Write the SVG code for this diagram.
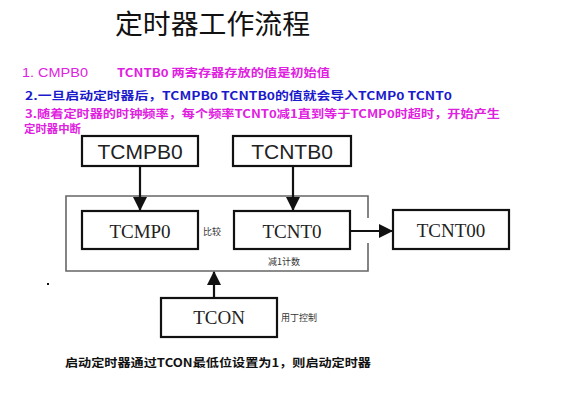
<svg xmlns="http://www.w3.org/2000/svg" width="573" height="407" viewBox="0 0 573 407">
<style>
.cjk{font-family:"Noto Sans CJK SC","Noto Sans",sans-serif}
.mag{fill:#e020e0;font-weight:bold;font-size:11px}
.blue{fill:#1a1acc;font-weight:bold;font-size:11px}
.box{fill:#fff;stroke:#111;stroke-width:2.2}
.sans{font-family:"Liberation Sans",Arial,sans-serif;font-size:21px;fill:#222;text-anchor:middle}
.serif{font-family:"Liberation Serif","Times New Roman",serif;font-size:19px;fill:#222;text-anchor:middle}
.small{font-family:"Noto Sans CJK SC",sans-serif;font-size:9px;fill:#333}
.line{stroke:#111;stroke-width:2.2;fill:none}
.outer{stroke:#666;stroke-width:1.6;fill:none}
</style>
<defs>
<marker id="ah2" markerWidth="14" markerHeight="14" refX="13" refY="7" orient="auto" markerUnits="userSpaceOnUse" viewBox="0 0 14 14">
<path d="M0,0 L14,7 L0,14 Z" fill="#111"/>
</marker>
</defs>
<rect width="573" height="407" fill="#fff"/>
<text x="115" y="34" class="cjk" font-size="27" fill="#111" textLength="195" lengthAdjust="spacingAndGlyphs">定时器工作流程</text>
<g id="notes" class="cjk">
<text x="22" y="77" fill="#e020e0" font-family="Liberation Sans,sans-serif" font-size="12.5" textLength="66" lengthAdjust="spacingAndGlyphs">1. CMPB0</text>
<text x="117" y="77" class="mag" textLength="213" lengthAdjust="spacingAndGlyphs">TCNTB0 两寄存器存放的值是初始值</text>
<text x="25" y="100" class="blue" textLength="427" lengthAdjust="spacingAndGlyphs">2.一旦启动定时器后，TCMPB0  TCNTB0的值就会导入TCMP0  TCNT0</text>
<text x="25" y="118" class="mag" font-size="10" textLength="475" lengthAdjust="spacingAndGlyphs">3.随着定时器的时钟频率，每个频率TCNT0减1直到等于TCMP0时超时，开始产生</text>
<text x="24" y="133" class="mag" font-size="10" textLength="57" lengthAdjust="spacingAndGlyphs">定时器中断</text>
</g>
<g id="outer-frame">
<path class="outer" d="M368,218 V196 H66 V271 H368 V243"/>
</g>
<g id="connectors">
<line class="line" x1="140" y1="166" x2="140" y2="210" marker-end="url(#ah2)"/>
<line class="line" x1="293" y1="166" x2="293" y2="210" marker-end="url(#ah2)"/>
<line class="line" x1="350" y1="231" x2="392" y2="231" marker-end="url(#ah2)"/>
<line class="line" x1="214" y1="298" x2="214" y2="272" marker-end="url(#ah2)"/>
</g>
<g id="TCMPB0">
<rect class="box" x="82" y="136" width="116" height="30"/>
<text class="sans" x="140" y="159">TCMPB0</text>
</g>
<g id="TCNTB0">
<rect class="box" x="233" y="136" width="118" height="30"/>
<text class="sans" x="292" y="159">TCNTB0</text>
</g>
<g id="TCMP0">
<rect class="box" x="82" y="211" width="116" height="38"/>
<text class="serif" x="140" y="238">TCMP0</text>
</g>
<text class="small" x="203" y="235">比较</text>
<g id="TCNT0">
<rect class="box" x="234" y="211" width="116" height="38"/>
<text class="serif" x="292" y="238">TCNT0</text>
</g>
<text class="small" x="268" y="265">减1计数</text>
<g id="TCNT00">
<rect class="box" x="393" y="210" width="116" height="39"/>
<text class="serif" x="451" y="237">TCNT00</text>
</g>
<g id="TCON">
<rect class="box" x="161" y="298" width="116" height="39"/>
<text class="serif" x="219" y="324">TCON</text>
</g>
<text class="small" x="281" y="321">用丁控制</text>
<rect x="47" y="283" width="2" height="2" fill="#111"/>
<text x="65" y="367" class="cjk" font-size="11.5" font-weight="bold" fill="#111" textLength="306" lengthAdjust="spacingAndGlyphs">启动定时器通过TCON最低位设置为1，则启动定时器</text>
</svg>
